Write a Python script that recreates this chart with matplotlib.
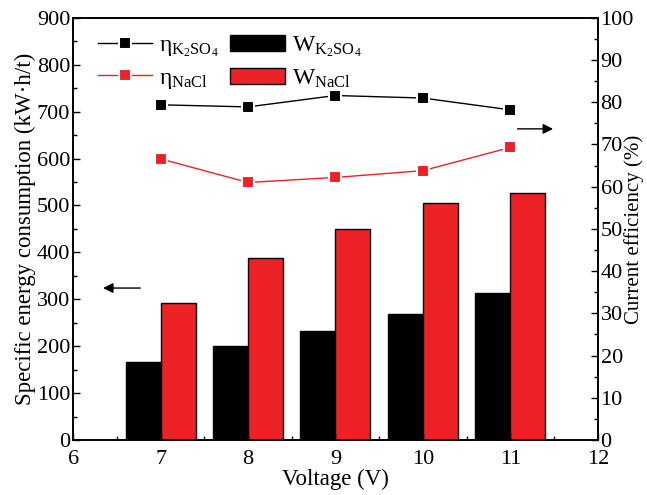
import numpy as np
import matplotlib
matplotlib.use("Agg")
import matplotlib.pyplot as plt
from matplotlib.ticker import MultipleLocator

plt.rcParams['font.family'] = ['Liberation Serif', 'DejaVu Serif']
plt.rcParams['mathtext.fontset'] = 'custom'
plt.rcParams['mathtext.rm'] = 'Liberation Serif'
plt.rcParams['mathtext.it'] = 'Liberation Serif:italic'
plt.rcParams['font.size'] = 16

voltage = [7, 8, 9, 10, 11]
w_k2so4 = [166, 200, 232, 269, 313]
w_nacl = [293, 388, 450, 506, 526]
eta_k2so4 = [79.4, 78.9, 81.6, 81.0, 78.2]
eta_nacl = [66.6, 61.0, 62.2, 63.8, 69.3]

red = "#ED2227"

fig = plt.figure(figsize=(6.47, 4.95), dpi=100)
ax1 = fig.add_axes([0.113, 0.111, 0.811, 0.853])
ax2 = ax1.twinx()

x = np.array(voltage)
bw = 0.4
b1 = ax1.bar(x - bw / 2, w_k2so4, width=bw, color="black", edgecolor="black", linewidth=1,
             label=r"W$_{\mathrm{K_2SO_4}}$")
b2 = ax1.bar(x + bw / 2, w_nacl, width=bw, color=red, edgecolor="black", linewidth=1,
             label=r"W$_{\mathrm{NaCl}}$")

l1, = ax2.plot(x, eta_k2so4, color="black", lw=1, marker="s", ms=8, mfc="black",
               mec="white", mew=1.5, label=r"η$_{\mathrm{K_2SO_4}}$")
l2, = ax2.plot(x, eta_nacl, color=red, lw=1, marker="s", ms=8, mfc=red,
               mec="white", mew=1.5, label=r"η$_{\mathrm{NaCl}}$")

ax1.set_xlim(6, 12)
ax1.set_ylim(0, 900)
ax2.set_ylim(0, 100)
ax1.xaxis.set_major_locator(MultipleLocator(1))
ax1.xaxis.set_minor_locator(MultipleLocator(0.5))
ax1.yaxis.set_major_locator(MultipleLocator(100))
ax1.yaxis.set_minor_locator(MultipleLocator(50))
ax2.yaxis.set_major_locator(MultipleLocator(10))
ax2.yaxis.set_minor_locator(MultipleLocator(5))

for ax in (ax1, ax2):
    ax.tick_params(which="both", direction="in", top=False, labelsize=16, pad=2)
    ax.tick_params(which="major", length=5, width=1)
    ax.tick_params(which="minor", length=3, width=1)
    for s in ax.spines.values():
        s.set_linewidth(1.2)
ax1.tick_params(axis="x", which="both", pad=7)

ax1.set_xlabel("Voltage (V)", fontsize=16.5, labelpad=0)
ax1.set_ylabel("Specific energy consumption (kW·h/t)", fontsize=16.5, labelpad=1)
ax2.set_ylabel("Current efficiency (%)", fontsize=15)
ax2.yaxis.set_label_coords(1.051, 0.5)

ax1.annotate("", xy=(6.31, 324), xytext=(6.8, 324),
             arrowprops=dict(arrowstyle="-|>", color="black", lw=1, mutation_scale=15))
ax2.annotate("", xy=(11.52, 73.7), xytext=(11.05, 73.7),
             arrowprops=dict(arrowstyle="-|>", color="black", lw=1, mutation_scale=15))

leg = ax2.legend([l1, l2, b1, b2], [l1.get_label(), l2.get_label(), b1.get_label(), b2.get_label()],
                 ncol=2, loc="upper left", bbox_to_anchor=(0.015, 1.0), frameon=False,
                 fontsize=17, handlelength=2.3, handletextpad=0.3, columnspacing=0.5,
                 labelspacing=0.35, borderaxespad=0.3)

fig.savefig("out.png", dpi=100)
